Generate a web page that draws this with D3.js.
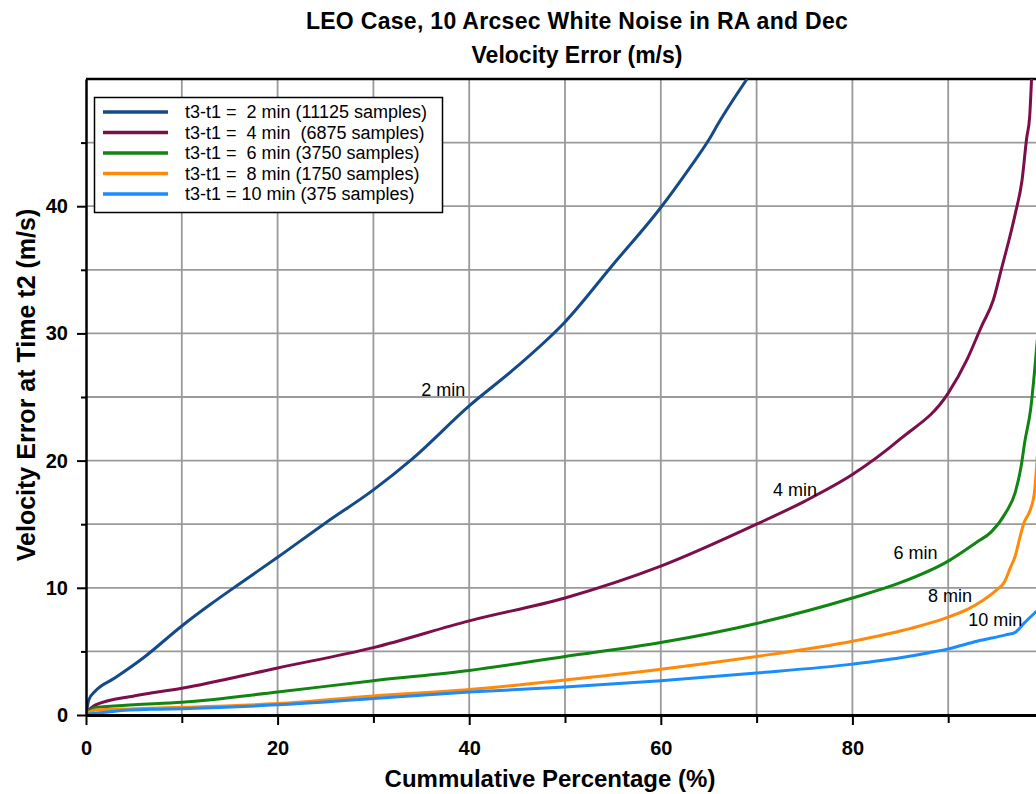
<!DOCTYPE html>
<html lang="en">
<head>
    <meta charset="UTF-8">
    <title>LEO Case, 10 Arcsec White Noise - Velocity Error</title>
    <script src="https://d3js.org/d3.v7.min.js"></script>
    <style>
        body { margin: 0; background: #fff; overflow: hidden; }
        svg { display: block; font-family: "Liberation Sans", Arial, sans-serif; }
        .grid line { stroke: #9a9a9a; stroke-width: 1.8px; }
        .axis text { font-size: 20px; font-weight: bold; fill: #000; }
        .axis path, .axis line { stroke: #000; }
        .series { fill: none; stroke-width: 3px; stroke-linejoin: round; }
        .lbl { font-size: 18px; fill: #000; }
        .legend text { font-size: 18px; fill: #000; white-space: pre; }
    </style>
</head>
<body>
    <svg></svg>
    <script>
        // cumulative percentage (%) and velocity error (m/s)
        const pct2  = [0, 0.3, 1, 3, 6, 10, 13, 16, 20, 25, 30, 34, 40, 45, 50, 55, 60, 63, 65, 66, 69];
        const vel2  = [0, 1.2, 1.9, 2.9, 4.5, 7.0, 8.7, 10.3, 12.4, 15.1, 17.7, 20.1, 24.3, 27.4, 30.9, 35.4, 39.9, 43.0, 45.2, 46.5, 50];

        const pct4  = [0, 1, 5, 10, 20, 30, 40, 50, 60, 70, 75, 80, 85, 90, 92, 93.5, 94.7, 95.6, 96.4, 97, 97.7, 98.2, 98.5, 98.7];
        const vel4  = [0.2, 0.8, 1.5, 2.1, 3.7, 5.3, 7.4, 9.2, 11.7, 15.0, 16.8, 18.9, 21.7, 25.3, 28.0, 30.6, 32.6, 35.2, 37.5, 39.4, 42.0, 45.4, 47.0, 50];

        const pct6  = [0, 1, 5, 10, 20, 30, 40, 50, 60, 70, 80, 85, 90, 93, 94.5, 96, 97, 97.6, 98, 98.6, 99.3];
        const vel6  = [0.2, 0.6, 0.8, 1.0, 1.8, 2.7, 3.5, 4.6, 5.7, 7.2, 9.2, 10.4, 12.1, 13.6, 14.4, 15.9, 17.5, 19.5, 21.5, 24.0, 29.5];

        const pct8  = [0, 1, 5, 10, 20, 30, 40, 50, 60, 70, 80, 85, 90, 92, 93.6, 95, 95.9, 96.5, 97, 97.5, 97.9, 98.5, 99, 99.3];
        const vel8  = [0.1, 0.4, 0.5, 0.6, 0.9, 1.5, 2.0, 2.75, 3.6, 4.6, 5.8, 6.6, 7.7, 8.3, 9.0, 9.8, 10.5, 11.6, 12.5, 14.0, 15.1, 16.0, 17.5, 20.4];

        const pct10 = [0, 3, 7, 10, 20, 30, 40, 50, 60, 70, 80, 85, 88, 90, 93, 96, 97, 97.9, 99, 99.3];
        const vel10 = [0.05, 0.3, 0.45, 0.5, 0.8, 1.3, 1.8, 2.2, 2.7, 3.3, 4.0, 4.5, 4.9, 5.2, 5.8, 6.3, 6.5, 7.2, 8.0, 8.2];

        const legendLabels = [
            "t3-t1 =  2 min (11125 samples)",
            "t3-t1 =  4 min  (6875 samples)",
            "t3-t1 =  6 min (3750 samples)",
            "t3-t1 =  8 min (1750 samples)",
            "t3-t1 = 10 min (375 samples)"
        ];
        const curveLabels = ["2 min", "4 min", "6 min", "8 min", "10 min"];
        const labelPct = [37.3, 74.0, 86.6, 90.2, 94.9];
        const labelVel = [25.1, 17.2, 12.3, 8.9, 7.0];
        const colors = ["#134a8a", "#7c0f4a", "#118511", "#ff8a0a", "#1a8cff"];

        const xMajor = [0, 20, 40, 60, 80];
        const xMinor = [10, 30, 50, 70, 90];
        const yMajor = [0, 10, 20, 30, 40];
        const yMinor = [5, 15, 25, 35, 45];

        const width = 1036, height = 794;
        const svg = d3.select("svg").attr("width", width).attr("height", height);

        const x = d3.scaleLinear().domain([0, 100]).range([86, 1044]);
        const y = d3.scaleLinear().domain([0, 50]).range([715, 79]);

        svg.append("defs").append("clipPath").attr("id", "plot")
            .append("rect")
            .attr("x", x(0)).attr("y", y(50))
            .attr("width", x(100) - x(0)).attr("height", y(0) - y(50));

        // grid
        const grid = svg.append("g").attr("class", "grid");
        grid.selectAll(".gv").data(d3.range(10, 101, 10)).enter().append("line")
            .attr("x1", d => x(d)).attr("x2", d => x(d))
            .attr("y1", y(0)).attr("y2", y(50));
        grid.selectAll(".gh").data(d3.range(5, 50, 5)).enter().append("line")
            .attr("x1", x(0)).attr("x2", x(100))
            .attr("y1", d => y(d)).attr("y2", d => y(d));

        // top frame
        svg.append("line")
            .attr("x1", x(0)).attr("x2", x(100))
            .attr("y1", y(50)).attr("y2", y(50))
            .attr("stroke", "#000").attr("stroke-width", 2.5);

        // series
        const series = [
            d3.zip(pct2, vel2), d3.zip(pct4, vel4), d3.zip(pct6, vel6),
            d3.zip(pct8, vel8), d3.zip(pct10, vel10)
        ];
        const line = d3.line().curve(d3.curveMonotoneX).x(d => x(d[0])).y(d => y(d[1]));
        svg.append("g").attr("clip-path", "url(#plot)")
            .selectAll("path").data(series).enter().append("path")
            .attr("class", "series")
            .attr("stroke", (d, i) => colors[i])
            .attr("d", line);

        // axes
        const xAxis = svg.append("g").attr("class", "axis")
            .attr("transform", `translate(0,${y(0)})`)
            .call(d3.axisBottom(x).tickValues(xMajor).tickSize(10).tickSizeOuter(0).tickPadding(16));
        xAxis.select(".domain").attr("stroke-width", 3);
        xAxis.selectAll(".tick line").attr("stroke-width", 2);
        svg.append("g").attr("class", "axis")
            .attr("transform", `translate(0,${y(0)})`)
            .call(d3.axisBottom(x).tickValues(xMinor).tickSize(8).tickFormat(""))
            .call(g => g.select(".domain").remove())
            .selectAll(".tick line").attr("stroke-width", 2);

        const yAxis = svg.append("g").attr("class", "axis")
            .attr("transform", `translate(${x(0)},0)`)
            .call(d3.axisLeft(y).tickValues(yMajor).tickSize(9).tickSizeOuter(0).tickPadding(9));
        yAxis.select(".domain").attr("stroke-width", 2.5);
        yAxis.selectAll(".tick line").attr("stroke-width", 2);
        svg.append("g").attr("class", "axis")
            .attr("transform", `translate(${x(0)},0)`)
            .call(d3.axisLeft(y).tickValues(yMinor).tickSize(5).tickFormat(""))
            .call(g => g.select(".domain").remove())
            .selectAll(".tick line").attr("stroke-width", 2);

        // titles
        svg.append("text").attr("x", 577).attr("y", 29)
            .attr("text-anchor", "middle").attr("font-size", 23).attr("font-weight", "bold")
            .attr("letter-spacing", 0.3)
            .text("LEO Case, 10 Arcsec White Noise in RA and Dec");
        svg.append("text").attr("x", 577).attr("y", 63)
            .attr("text-anchor", "middle").attr("font-size", 23).attr("font-weight", "bold")
            .text("Velocity Error (m/s)");
        svg.append("text").attr("x", 550).attr("y", 787)
            .attr("text-anchor", "middle").attr("font-size", 24).attr("font-weight", "bold")
            .text("Cummulative Percentage (%)");
        svg.append("text")
            .attr("transform", "translate(35,385) rotate(-90)")
            .attr("text-anchor", "middle").attr("font-size", 25).attr("font-weight", "bold")
            .text("Velocity Error at Time t2 (m/s)");

        // curve labels
        svg.append("g").selectAll("text").data(curveLabels).enter().append("text")
            .attr("class", "lbl")
            .attr("x", (d, i) => x(labelPct[i]))
            .attr("y", (d, i) => y(labelVel[i]))
            .attr("text-anchor", "middle")
            .text(d => d);

        // legend
        const legend = svg.append("g").attr("class", "legend");
        legend.append("rect")
            .attr("x", 94.5).attr("y", 97.5).attr("width", 348).attr("height", 115)
            .attr("fill", "#fff").attr("stroke", "#000").attr("stroke-width", 1.5);
        const rows = legend.selectAll(".row").data(legendLabels).enter().append("g")
            .attr("transform", (d, i) => `translate(0,${112 + i * 20.5})`);
        rows.append("line")
            .attr("x1", 103).attr("x2", 168)
            .attr("stroke", (d, i) => colors[i]).attr("stroke-width", 3.5);
        rows.append("text")
            .attr("x", 185).attr("dy", "0.35em")
            .text(d => d);
    </script>
</body>
</html>
